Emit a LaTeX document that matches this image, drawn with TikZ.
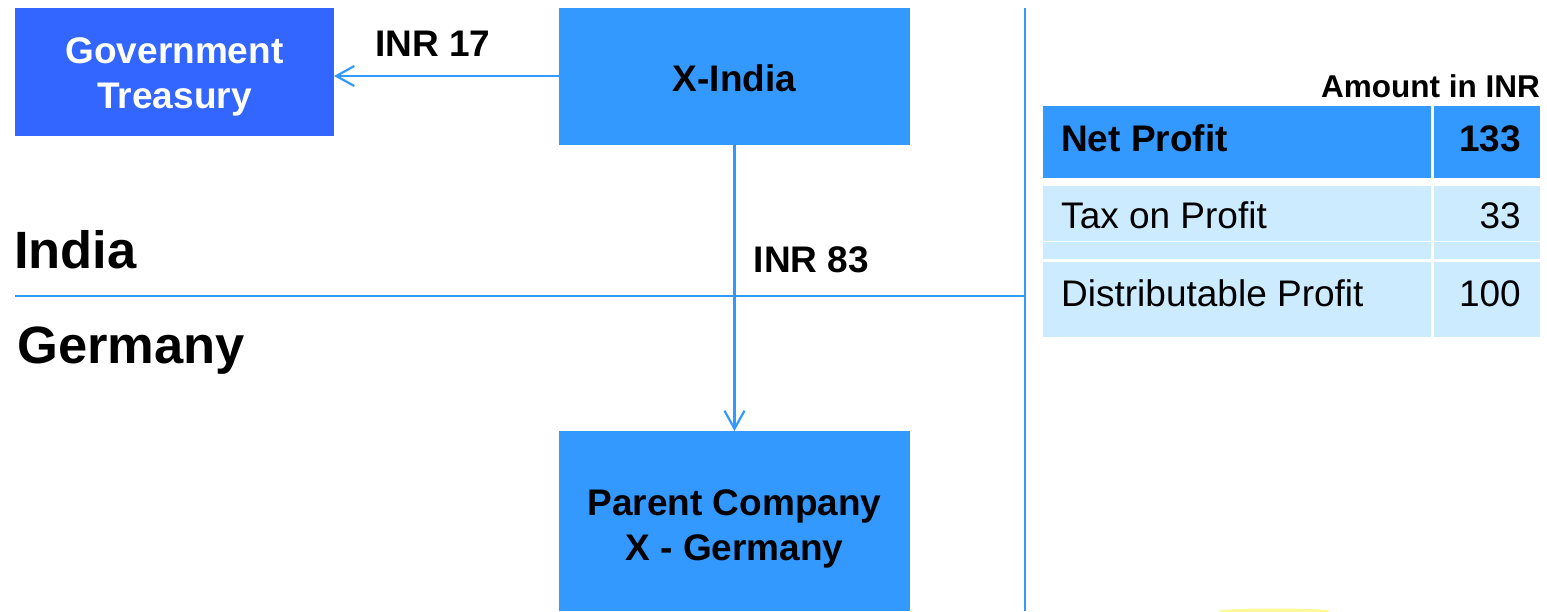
\documentclass[tikz,border=0pt]{standalone}
\usepackage{fontspec}
\setmainfont{Liberation Sans}
\usetikzlibrary{arrows.meta}
\definecolor{boxblue}{RGB}{51,153,255}
\definecolor{govblue}{RGB}{51,102,255}
\definecolor{lightcell}{RGB}{204,235,255}
\definecolor{glow}{RGB}{250,245,80}
\tikzset{
  box/.style={draw=none,inner sep=0pt,outer sep=0pt,anchor=north west},
  cell/.style={box,fill=lightcell},
  hcell/.style={box,fill=boxblue},
  flow/.style={draw=boxblue,line width=2.2pt,-{Straight Barb[length=18pt,width=20pt,line width=2.2pt]}},
  sep/.style={draw=boxblue,line width=1.6pt},
  lbl/.style={inner sep=0pt,anchor=base,font=\fontsize{37}{44}\selectfont\bfseries},
  big/.style={inner sep=0pt,anchor=base west,font=\fontsize{52.5}{60}\selectfont\bfseries},
  celltxt/.style={inner sep=0pt,anchor=base west,font=\fontsize{37}{44}\selectfont},
  cellnum/.style={inner sep=0pt,anchor=base east,font=\fontsize{37}{44}\selectfont},
}
\begin{document}
\begin{tikzpicture}[x=1pt,y=-1pt]
\useasboundingbox (0,0) rectangle (1547,611);
% separators
\coordinate (hl) at (15,296);
\coordinate (hr) at (1025,296);
\coordinate (vt) at (1025,8);
\coordinate (vb) at (1025,611);
\draw[sep] (hl) -- (hr);
\draw[sep] (vt) -- (vb);
% boxes
\node[box,fill=govblue,minimum width=319pt,minimum height=128pt] (gov) at (15,8) {};
\node[box,fill=boxblue,minimum width=351pt,minimum height=137pt] (xin) at (559,8) {};
\node[box,fill=boxblue,minimum width=351pt,minimum height=180pt] (par) at (559,431) {};
\node[lbl,text=white] (govt1) at (174.5,63) {Government};
\node[lbl,text=white] (govt2) at (174.5,108) {Treasury};
\node[lbl] (xint) at (734.5,91) {X-India};
\node[lbl] (part1) at (734.5,515) {Parent Company};
\node[lbl] (part2) at (734.5,560) {X - Germany};
% connectors
\draw[flow] (xin.west |- 0,76) -- (gov.east |- 0,76);
\draw[flow] (xin.south) -- (par.north);
\node[lbl] (inr17) at (433,56) {INR 17};
\node[lbl] (inr83) at (811.5,272) {INR 83};
% country labels
\node[big] (india) at (14,268) {India};
\node[big] (germany) at (17,363) {Germany};
% table
\node[inner sep=0pt,anchor=base east,font=\fontsize{31.5}{38}\selectfont\bfseries] (amt) at (1540,97) {Amount in INR};
\node[hcell,minimum width=388pt,minimum height=72pt] (c11) at (1043,106) {};
\node[hcell,minimum width=106pt,minimum height=72pt] (c12) at (1434,106) {};
\node[cell,minimum width=388pt,minimum height=55pt] (c21) at (1043,186) {};
\node[cell,minimum width=106pt,minimum height=55pt] (c22) at (1434,186) {};
\node[cell,minimum width=388pt,minimum height=17pt] (c31) at (1043,242) {};
\node[cell,minimum width=106pt,minimum height=17pt] (c32) at (1434,242) {};
\node[cell,minimum width=388pt,minimum height=75pt] (c41) at (1043,262) {};
\node[cell,minimum width=106pt,minimum height=75pt] (c42) at (1434,262) {};
\node[celltxt,font=\fontsize{37}{44}\selectfont\bfseries] (t11) at (1061,151) {Net Profit};
\node[cellnum,font=\fontsize{37}{44}\selectfont\bfseries] (t12) at (1521,151) {133};
\node[celltxt] (t21) at (1061,228) {Tax on Profit};
\node[cellnum] (t22) at (1521,228) {33};
\node[celltxt] (t41) at (1061,306) {Distributable Profit};
\node[cellnum] (t42) at (1521,306) {100};
% faint glow at bottom
\fill[glow,opacity=0.6] (1274,611) ellipse [x radius=56pt, y radius=2.5pt];
\end{tikzpicture}
\end{document}
